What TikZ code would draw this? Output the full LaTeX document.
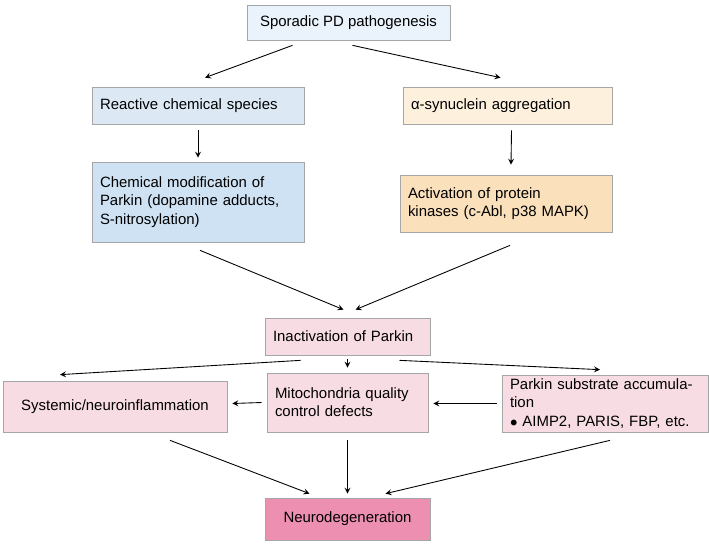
\documentclass[tikz,border=0pt]{standalone}
\usepackage{fontspec}
\setmainfont{Liberation Sans}
\usetikzlibrary{calc,positioning,arrows}
\definecolor{topblue}{HTML}{EAF2FB}
\definecolor{lightblue}{HTML}{DCE9F5}
\definecolor{midblue}{HTML}{CFE2F3}
\definecolor{lightorange}{HTML}{FDF0DC}
\definecolor{midorange}{HTML}{FAE0BB}
\definecolor{palepink}{HTML}{F7DCE4}
\definecolor{deeppink}{HTML}{EC8FB0}
\tikzset{
	box/.style={draw=gray!70, fill=#1, inner sep=0pt, align=left, font=\fontsize{8.5}{10.4}\selectfont},
	arr/.style={-stealth, line width=0.5pt, black, shorten >=0pt}
}
\begin{document}
\begin{tikzpicture}[x=0.02cm, y=-0.02cm]
	\useasboundingbox (0, 0) rectangle (709, 544);
	% boxes
	\node[box=topblue, minimum width=203*0.02cm, minimum height=35*0.02cm, align=center] (top) at (348.5, 22.5) {Sporadic PD pathogenesis};
	\node[box=lightblue, minimum width=212*0.02cm, minimum height=37*0.02cm, text width=196*0.02cm] (rcs) at (198, 105.5) {Reactive chemical species};
	\node[box=lightorange, minimum width=209*0.02cm, minimum height=37*0.02cm, text width=193*0.02cm] (syn) at (507.5, 105.5) {α-synuclein aggregation};
	\node[box=midblue, minimum width=212*0.02cm, minimum height=80*0.02cm, text width=196*0.02cm] (chem) at (198, 202) {Chemical modification of\\Parkin (dopamine adducts,\\S-nitrosylation)};
	\node[box=midorange, minimum width=212*0.02cm, minimum height=57*0.02cm, text width=196*0.02cm] (kin) at (506, 203.5) {Activation of protein\\kinases (c-Abl, p38 MAPK)};
	\node[box=palepink, minimum width=165*0.02cm, minimum height=37*0.02cm, text width=149*0.02cm] (inact) at (347.5, 336.5) {Inactivation of Parkin};
	\node[box=palepink, minimum width=224*0.02cm, minimum height=51*0.02cm, align=center] (sys) at (115, 406.5) {Systemic/neuroinflammation};
	\node[box=palepink, minimum width=161*0.02cm, minimum height=59*0.02cm, text width=145*0.02cm] (mito) at (347.5, 402.5) {Mitochondria quality\\control defects};
	\node[box=palepink, minimum width=206*0.02cm, minimum height=57*0.02cm, text width=190*0.02cm] (subst) at (605, 403.5) {Parkin substrate accumulation\\$\bullet$ AIMP2, PARIS, FBP, etc.};
	\node[box=deeppink, minimum width=165*0.02cm, minimum height=42*0.02cm, align=center] (neuro) at (347.5, 519) {Neurodegeneration};
	% connectors
	\draw[arr] ($(top.south)+(-56, 5)$) -- ($(rcs.north)+(7, -9)$);
	\draw[arr] ($(top.south)+(4, 5)$) -- ($(syn.north)+(-7, -9)$);
	\draw[arr] ($(rcs.south)+(0, 6)$) -- ($(chem.north)+(0, -4)$);
	\draw[arr] ($(syn.south)+(4, 6)$) -- ($(kin.north)+(5, -10)$);
	\draw[arr] ($(chem.south)+(2, 8)$) -- ($(inact.north)+(-4, -8)$);
	\draw[arr] ($(kin.south)+(4, 13)$) -- ($(inact.north)+(8, -8)$);
	\draw[arr] ($(inact.south)+(-47, 5)$) -- ($(sys.north)+(-55, -6)$);
	\draw[arr] ($(inact.south)+(0, 4)$) -- ($(mito.north)+(0, -5)$);
	\draw[arr] ($(inact.south)+(52, 5)$) -- ($(subst.north)+(-5, -5)$);
	\draw[arr] ($(mito.west)+(-5, 0)$) -- ($(sys.east)+(5, -3)$);
	\draw[arr] ($(subst.west)+(-5, 0)$) -- ($(mito.east)+(5, 1)$);
	\draw[arr] ($(sys.south)+(55, 8)$) -- ($(neuro.north)+(-38, -4)$);
	\draw[arr] ($(mito.south)+(0, 8)$) -- ($(neuro.north)+(0, -4)$);
	\draw[arr] ($(subst.south)+(5, 8)$) -- ($(neuro.north)+(38, -4)$);
\end{tikzpicture}
\end{document}
